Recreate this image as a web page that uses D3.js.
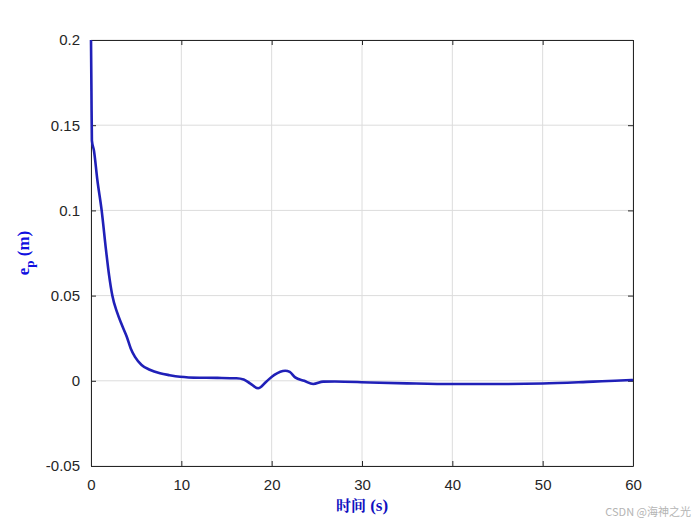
<!DOCTYPE html>
<html>
<head>
<meta charset="utf-8">
<script src="https://cdn.jsdelivr.net/npm/d3@7"></script>
<style>
  body { margin: 0; background: #fff; }
  .tick text { font-family: "Liberation Sans", Arial, sans-serif; font-size: 15px; fill: #262626; }
  .grid line { stroke: #dcdcdc; stroke-width: 1; }
  .axis path, .axis line { stroke: #262626; }
</style>
</head>
<body>
<div id="chart"></div>
<script>
// time (s) and position error e_p (m)
const times = [0, 0.05, 0.1, 0.33, 0.7, 1.18, 1.66, 2.0, 2.36, 2.9, 3.4, 3.95, 4.4, 4.87, 5.6, 6.5, 7.64, 8.7, 9.85, 12, 14, 16.1, 16.9, 17.6, 18.5, 19.4, 20.3, 21.5, 22.0, 22.6, 23.6, 24.6, 25.7, 27, 30.9, 35, 40, 45, 50, 55.6, 58, 60]
const errs  = [0.2, 0.17, 0.141, 0.135, 0.118, 0.1, 0.0768, 0.062, 0.05, 0.04, 0.033, 0.026, 0.019, 0.014, 0.0093, 0.0065, 0.0044, 0.0033, 0.0024, 0.0018, 0.0017, 0.0015, 0.0008, -0.0015, -0.0044, -0.0005, 0.0035, 0.0059, 0.0052, 0.002, 0.0, -0.0019, -0.0005, -0.0004, -0.001, -0.0015, -0.0019, -0.0019, -0.0016, -0.0005, 0.0, 0.0005]

const xTicks = [0, 10, 20, 30, 40, 50, 60]
const yTicks = [-0.05, 0, 0.05, 0.1, 0.15, 0.2]

const data = times.map((t, i) => ({t: t, v: errs[i]}))

const width = 700, height = 525
const margin = {top: 40, right: 67, bottom: 59, left: 91}

let x = d3.scaleLinear().domain([0, 60]).range([margin.left, width - margin.right])
let y = d3.scaleLinear().domain([-0.05, 0.2]).range([height - margin.bottom, margin.top])

let svg = d3.select("#chart").append("svg")
  .attr("width", width)
  .attr("height", height)

// grid
svg.append("g").attr("class", "grid")
  .selectAll("line.gx").data(xTicks).enter().append("line")
  .attr("x1", d => x(d)).attr("x2", d => x(d))
  .attr("y1", margin.top).attr("y2", height - margin.bottom)
svg.append("g").attr("class", "grid")
  .selectAll("line.gy").data(yTicks).enter().append("line")
  .attr("x1", margin.left).attr("x2", width - margin.right)
  .attr("y1", d => y(d)).attr("y2", d => y(d))

const fmt = d => String(d)

// axes, ticks pointing inward
svg.append("g").attr("class", "axis")
  .attr("transform", "translate(0," + (height - margin.bottom) + ")")
  .call(d3.axisBottom(x).tickValues(xTicks).tickFormat(fmt).tickSizeInner(-5).tickSizeOuter(0).tickPadding(13))
svg.append("g").attr("class", "axis")
  .attr("transform", "translate(" + margin.left + ",0)")
  .call(d3.axisLeft(y).tickValues(yTicks).tickFormat(fmt).tickSizeInner(-5).tickSizeOuter(0).tickPadding(11))
svg.append("g").attr("class", "axis")
  .attr("transform", "translate(0," + margin.top + ")")
  .call(d3.axisTop(x).tickValues(xTicks).tickFormat("").tickSizeInner(-5).tickSizeOuter(0))
svg.append("g").attr("class", "axis")
  .attr("transform", "translate(" + (width - margin.right) + ",0)")
  .call(d3.axisRight(y).tickValues(yTicks).tickFormat("").tickSizeInner(-5).tickSizeOuter(0))

let valueline = d3.line()
  .x(d => x(d.t))
  .y(d => y(d.v))
  .curve(d3.curveMonotoneX)

svg.append("path")
  .datum(data)
  .attr("fill", "none")
  .attr("stroke", "#2020b8")
  .attr("stroke-width", 2.6)
  .attr("d", valueline)

// x label
let xl = svg.append("text")
  .attr("x", x(30))
  .attr("y", 511)
  .attr("text-anchor", "middle")
  .attr("fill", "#1010c0")
  .style("font-family", "'Noto Serif CJK SC', 'Noto Sans CJK SC', serif")
  .style("font-weight", "bold")
  .style("font-size", "15px")
xl.append("tspan").text("时间")
xl.append("tspan").style("font-family", "'Liberation Serif', serif").style("font-size", "17px").text(" (s)")

// y label
let yl = svg.append("text")
  .attr("transform", "translate(29," + y(0.075) + ") rotate(-90)")
  .attr("text-anchor", "middle")
  .attr("fill", "#1010e0")
  .style("font-family", "'Liberation Serif', 'Times New Roman', serif")
  .style("font-weight", "bold")
  .style("font-size", "17px")
yl.append("tspan").text("e")
yl.append("tspan").attr("dy", 5).style("font-size", "13px").text("p")
yl.append("tspan").attr("dy", -5).text(" (m)")

// watermark
svg.append("text")
  .attr("x", 691)
  .attr("y", 516)
  .attr("text-anchor", "end")
  .attr("fill", "#b4b4b4")
  .style("font-family", "'Noto Sans CJK SC', sans-serif")
  .style("font-size", "11px")
  .text("CSDN @海神之光")
</script>
</body>
</html>
